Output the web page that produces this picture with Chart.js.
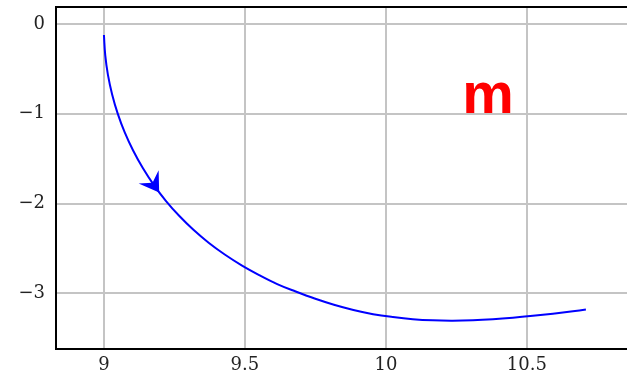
<!DOCTYPE html>
<html>
<head>
<meta charset="utf-8">
<script src="https://cdn.jsdelivr.net/npm/chart.js@4/dist/chart.umd.min.js"></script>
<style>
  html, body { margin: 0; padding: 0; background: #fff; }
  #wrap { width: 627px; height: 375px; }
</style>
</head>
<body>
<div id="wrap"><canvas id="chart"></canvas></div>
<script>
// curve
const xs = [9.0, 9.0046, 9.0142, 9.0291, 9.0489, 9.0738, 9.1035, 9.1379, 9.1766, 9.2195, 9.2667, 9.3174, 9.3713, 9.4284, 9.4883, 9.5504, 9.6145, 9.6801, 9.7472, 9.8156, 9.8848, 9.9546, 10.0248, 10.0954, 10.1663, 10.2372, 10.3085, 10.3794, 10.4504, 10.5213, 10.5922, 10.6631, 10.7092]
const ys = [-0.1226, -0.3456, -0.5663, -0.7837, -0.9978, -1.2074, -1.4091, -1.6042, -1.7915, -1.9688, -2.136, -2.2921, -2.4359, -2.5674, -2.6878, -2.796, -2.8963, -2.9799, -3.058, -3.1271, -3.1851, -3.2319, -3.2642, -3.2882, -3.301, -3.3043, -3.2999, -3.2887, -3.272, -3.2508, -3.2263, -3.1996, -3.1806]
const xTicks = [9, 9.5, 10, 10.5]
const yTicks = [-3, -2, -1, 0]
const arrowTip = [9.19, -1.85]
const arrowFrom = [9.1379, -1.6042]
const label = { text: 'm', x: 10.362, y: -0.99 }

const fmt = (v) => String(v).replace('-', '\u2212')

const extras = {
  id: 'extras',
  afterDatasetsDraw (chart) {
    const { ctx, chartArea: a, scales: { x, y } } = chart
    ctx.save()
    // frame
    ctx.strokeStyle = '#000'
    ctx.lineWidth = 2
    ctx.beginPath()
    ctx.moveTo(a.left, a.bottom)
    ctx.lineTo(a.left, a.top)
    ctx.lineTo(a.right, a.top)
    ctx.stroke()

    // arrow head along the curve
    const px = x.getPixelForValue(arrowTip[0])
    const py = y.getPixelForValue(arrowTip[1])
    const qx = x.getPixelForValue(arrowFrom[0])
    const qy = y.getPixelForValue(arrowFrom[1])
    const ang = Math.atan2(py - qy, px - qx)
    ctx.translate(px, py)
    ctx.rotate(ang)
    ctx.fillStyle = '#0000ff'
    ctx.beginPath()
    ctx.moveTo(3, 0)
    ctx.lineTo(-16, -12)
    ctx.lineTo(-9, 0)
    ctx.lineTo(-16, 12)
    ctx.closePath()
    ctx.fill()
    ctx.restore()

    // label
    ctx.save()
    ctx.fillStyle = '#ff0000'
    ctx.font = 'bold 58px "Liberation Sans", Arial, sans-serif'
    ctx.textAlign = 'center'
    ctx.textBaseline = 'alphabetic'
    ctx.fillText(label.text, x.getPixelForValue(label.x), y.getPixelForValue(label.y))
    ctx.restore()
  }
}

const noPad = (s) => {
  s.paddingTop = 0
  s.paddingBottom = 0
  s.paddingLeft = 0
  s.paddingRight = 0
}

new Chart(document.getElementById('chart'), {
  type: 'scatter',
  data: {
    datasets: [{
      data: xs.map((v, i) => ({ x: v, y: ys[i] })),
      showLine: true,
      borderColor: '#0000ff',
      borderWidth: 2,
      pointRadius: 0,
      tension: 0.4,
      fill: false
    }]
  },
  options: {
    responsive: true,
    maintainAspectRatio: false,
    animation: false,
    layout: { padding: { top: 7, right: 0, left: 0, bottom: 0 } },
    plugins: { legend: { display: false }, tooltip: { enabled: false } },
    scales: {
      x: {
        type: 'linear',
        min: 8.83,
        max: 10.855,
        afterBuildTicks: (s) => { s.ticks = xTicks.map((v) => ({ value: v })) },
        afterFit: (s) => { s.height = 26; noPad(s) },
        border: { display: true, color: '#000', width: 2 },
        grid: { color: '#c4c4c4', lineWidth: 2, drawTicks: false },
        ticks: {
          color: '#222',
          padding: 6,
          maxRotation: 0,
          font: { family: '"DejaVu Serif", "Liberation Serif", serif', size: 18 },
          callback: (v) => fmt(v)
        }
      },
      y: {
        type: 'linear',
        min: -3.62,
        max: 0.19,
        afterBuildTicks: (s) => { s.ticks = yTicks.map((v) => ({ value: v })) },
        afterFit: (s) => { s.width = 56; noPad(s) },
        border: { display: true, color: '#000', width: 2 },
        grid: { color: '#c4c4c4', lineWidth: 2, drawTicks: false },
        ticks: {
          color: '#222',
          padding: 11,
          font: { family: '"DejaVu Serif", "Liberation Serif", serif', size: 18 },
          callback: (v) => fmt(v)
        }
      }
    }
  },
  plugins: [extras]
})
</script>
</body>
</html>
